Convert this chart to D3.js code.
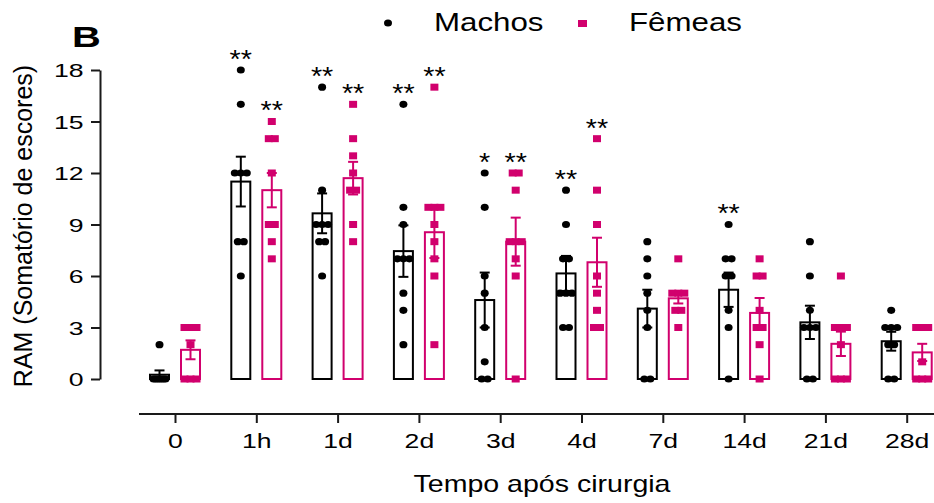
<!DOCTYPE html>
<html>
<head>
<meta charset="utf-8">
<script src="https://cdn.jsdelivr.net/npm/d3@7"></script>
<style>
  body { margin: 0; background: #fff; }
  text { font-family: "Liberation Sans", Arial, sans-serif; fill: #000; }
</style>
</head>
<body>
<svg id="chart" width="934" height="503"></svg>
<script>
// time points after surgery
var categories = ["0", "1h", "1d", "2d", "3d", "4d", "7d", "14d", "21d", "28d"];
var yTicks = [0, 3, 6, 9, 12, 15, 18];

// individual scores
var machosPoints = [
    [2, 0, 0, 0, 0, 0, 0, 0],
    [18, 16, 12, 12, 12, 8, 8, 6],
    [17, 11, 9, 9, 9, 8, 8, 6],
    [16, 10, 9, 7, 7, 7, 5, 4, 2],
    [12, 10, 6, 5, 3, 1, 0, 0],
    [11, 9, 7, 7, 5, 5, 5, 3, 3],
    [8, 7, 6, 5, 4, 3, 0, 0],
    [9, 7, 7, 6, 6, 4, 3, 0],
    [8, 6, 4, 3, 3, 3, 0, 0],
    [4, 3, 3, 3, 2, 2, 0, 0]
];
var femeasPoints = [
    [3, 3, 3, 3, 2, 0, 0, 0],
    [15, 14, 14, 12, 9, 9, 8, 7],
    [16, 14, 13, 12, 11, 11, 9, 8],
    [17, 10, 10, 10, 9, 8, 7, 6, 2],
    [12, 12, 11, 8, 8, 8, 7, 6, 0],
    [14, 11, 9, 6, 5, 4, 3, 3],
    [7, 5, 5, 5, 4, 4, 3],
    [7, 6, 6, 4, 3, 3, 2, 0],
    [6, 3, 3, 3, 2, 0, 0, 0],
    [3, 3, 3, 3, 1, 0, 0, 0]
];

// bar heights (mean) and error bars (SEM)
var machosMean = [0.25, 11.5, 9.65, 7.45, 4.6, 6.15, 4.1, 5.2, 3.3, 2.2];
var machosSem  = [0.25, 1.45, 1.16, 1.5, 1.6, 1.02, 1.1, 1.0, 0.97, 0.55];
var femeasMean = [1.7, 11.0, 11.7, 8.55, 8.0, 6.8, 4.7, 3.85, 2.05, 1.55];
var femeasSem  = [0.55, 1.0, 0.95, 1.5, 1.4, 1.43, 0.3, 0.87, 0.71, 0.5];

// significance marks
var machosSig = ["", "**", "**", "**", "*", "**", "", "**", "", ""];
var femeasSig = ["", "**", "**", "**", "**", "**", "", "", "", ""];

var pink = "#d1006d";

var series = [
    {name: "Machos", color: "#000", shape: "circle", side: -1,
     points: machosPoints, mean: machosMean, sem: machosSem, sig: machosSig},
    {name: "Fêmeas", color: pink, shape: "square", side: 1,
     points: femeasPoints, mean: femeasMean, sem: femeasSem, sig: femeasSig}
];

var dim = { width: 934, height: 503 };
var barW = 19, barShift = 15.5;

var svg = d3.select("#chart");

var x = d3.scalePoint()
    .domain(categories)
    .range([175, 906.7]);

var y = d3.scaleLinear()
    .domain([0, 18])
    .range([379, 70]);

// stretch text horizontally around its own x
function stretch(sel, sx) {
    sel.each(function() {
        var t = d3.select(this);
        var tx = +t.attr("x") || 0;
        t.attr("transform", "translate(" + (tx * (1 - sx)) + ",0) scale(" + sx + ",1)");
    });
}

// y axis
var yAxis = svg.append("g")
    .attr("transform", "translate(100,0)")
    .call(d3.axisLeft(y).tickValues(yTicks).tickSize(9).tickSizeOuter(0));
yAxis.select(".domain").attr("stroke", "#1a1a1a").attr("stroke-width", 2);
yAxis.selectAll(".tick line").attr("stroke", "#1a1a1a").attr("stroke-width", 2);
yAxis.selectAll(".tick text")
    .attr("x", -16.5).attr("dy", "0.36em")
    .style("font-size", "19px");
stretch(yAxis.selectAll(".tick text"), 1.4);

// x axis
var xAxis = svg.append("g")
    .attr("transform", "translate(0,414)")
    .call(d3.axisBottom(x).tickSize(9).tickSizeOuter(0));
xAxis.select(".domain").remove();
xAxis.append("line")
    .attr("x1", x(categories[0]) - 36).attr("x2", dim.width)
    .attr("stroke", "#1a1a1a").attr("stroke-width", 2);
xAxis.selectAll(".tick line").attr("stroke", "#1a1a1a").attr("stroke-width", 2);
xAxis.selectAll(".tick text")
    .attr("y", 34).attr("dy", 0)
    .style("font-size", "20px");
stretch(xAxis.selectAll(".tick text"), 1.33);

// axis titles
svg.append("text")
    .attr("transform", "translate(32,226) rotate(-90)")
    .attr("text-anchor", "middle")
    .style("font-size", "25px")
    .text("RAM (Somatório de escores)");

var xt = svg.append("text")
    .attr("x", 542).attr("y", 492)
    .attr("text-anchor", "middle")
    .style("font-size", "24px")
    .text("Tempo após cirurgia");
stretch(xt, 1.19);

// panel letter
var pl = svg.append("text")
    .attr("x", 72).attr("y", 47)
    .style("font-size", "30px").style("font-weight", "bold")
    .text("B");
stretch(pl, 1.33);

// spread points that share a value across the bar
function spread(vals) {
    var out = [];
    d3.group(vals, v => v).forEach(function(arr, v) {
        var k = arr.length;
        var step = k > 1 ? Math.min(6, 12 / (k - 1)) : 0;
        arr.forEach(function(_, j) {
            out.push({v: v, dx: (j - (k - 1) / 2) * step});
        });
    });
    return out;
}

series.forEach(function(s) {
    var g = svg.append("g");
    var cx = i => x(categories[i]) + s.side * barShift;

    // bars
    g.selectAll("rect.bar")
        .data(s.mean).enter()
        .append("rect")
        .attr("class", "bar")
        .attr("x", (d, i) => cx(i) - barW / 2)
        .attr("y", d => y(d))
        .attr("width", barW)
        .attr("height", d => y(0) - y(d))
        .attr("fill", "none")
        .attr("stroke", s.color)
        .attr("stroke-width", 2);

    // error bars
    var eb = g.selectAll("g.err")
        .data(s.mean).enter()
        .append("g").attr("class", "err");
    eb.append("line")
        .attr("x1", (d, i) => cx(i)).attr("x2", (d, i) => cx(i))
        .attr("y1", (d, i) => y(d - s.sem[i]))
        .attr("y2", (d, i) => y(d + s.sem[i]));
    eb.append("line")
        .attr("x1", (d, i) => cx(i) - 5).attr("x2", (d, i) => cx(i) + 5)
        .attr("y1", (d, i) => y(d + s.sem[i])).attr("y2", (d, i) => y(d + s.sem[i]));
    eb.append("line")
        .attr("x1", (d, i) => cx(i) - 5).attr("x2", (d, i) => cx(i) + 5)
        .attr("y1", (d, i) => y(Math.max(0, d - s.sem[i])))
        .attr("y2", (d, i) => y(Math.max(0, d - s.sem[i])));
    eb.selectAll("line").attr("stroke", s.color).attr("stroke-width", 2);

    // points
    s.points.forEach(function(vals, i) {
        var pts = spread(vals);
        if (s.shape === "circle") {
            g.selectAll(null).data(pts).enter()
                .append("ellipse")
                .attr("cx", d => cx(i) + d.dx)
                .attr("cy", d => y(d.v))
                .attr("rx", 4).attr("ry", 3.6)
                .attr("fill", s.color);
        } else {
            g.selectAll(null).data(pts).enter()
                .append("rect")
                .attr("x", d => cx(i) + d.dx - 4)
                .attr("y", d => y(d.v) - 3.5)
                .attr("width", 8).attr("height", 7)
                .attr("fill", s.color);
        }
    });

    // significance stars above the highest point
    s.sig.forEach(function(mark, i) {
        if (!mark) return;
        var t = g.append("text")
            .attr("x", cx(i))
            .attr("y", y(d3.max(s.points[i])) - 16 + 14)
            .attr("text-anchor", "middle")
            .style("font-size", "25px")
            .text(mark);
        stretch(t, 1.15);
    });
});

// legend
var leg = svg.append("g");
leg.append("ellipse")
    .attr("cx", 388).attr("cy", 23).attr("rx", 4).attr("ry", 3.6)
    .attr("fill", "#000");
var lt1 = leg.append("text")
    .attr("x", 434).attr("y", 31)
    .style("font-size", "26.5px")
    .text(series[0].name);
stretch(lt1, 1.18);
leg.append("rect")
    .attr("x", 578).attr("y", 20).attr("width", 9).attr("height", 7)
    .attr("fill", pink);
var lt2 = leg.append("text")
    .attr("x", 629).attr("y", 31)
    .style("font-size", "26.5px")
    .text(series[1].name);
stretch(lt2, 1.18);
</script>
</body>
</html>
